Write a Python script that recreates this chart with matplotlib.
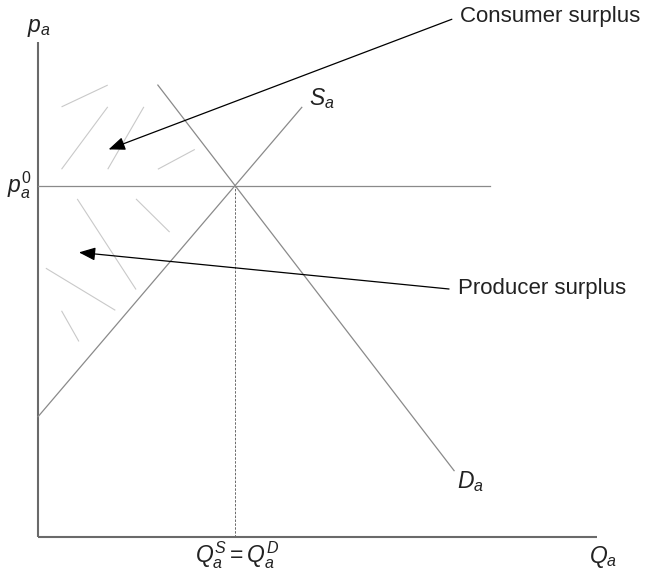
import matplotlib
matplotlib.use('Agg')
import matplotlib.pyplot as plt

plt.rcParams['font.family'] = ['Liberation Sans', 'DejaVu Sans']
plt.rcParams['mathtext.fontset'] = 'custom'
plt.rcParams['mathtext.rm'] = 'Liberation Sans'
plt.rcParams['mathtext.it'] = 'Liberation Sans:italic'

# supply and demand curves (quantity, price)
supply_q = [0.0, 47.1]
supply_p = [24.3, 86.8]
demand_q = [21.4, 74.3]
demand_p = [91.3, 13.4]

# market equilibrium
eq_q = 35.2
eq_p = 71.0

# axis extents
q_max = 99.8
p_max = 100.0
price_line_end = 80.7

# light strokes shading the surplus areas: (q0, q1, p0, p1)
consumer_strokes = [
    (4.2, 12.45, 86.9, 91.3),
    (4.2, 12.45, 74.3, 86.9),
    (12.45, 18.9, 74.3, 86.9),
    (21.4, 28.0, 74.3, 78.3),
]
producer_strokes = [
    (7.0, 17.5, 68.3, 50.0),
    (17.5, 23.5, 68.3, 61.6),
    (1.4, 13.8, 54.3, 45.8),
    (4.2, 7.3, 45.7, 39.5),
]

# annotation arrows: text anchor and arrow tip
consumer_text = (75.4, 105.1)
consumer_tail = (73.9, 104.6)
consumer_tip = (12.6, 78.3)
producer_text = (75.0, 50.3)
producer_tail = (73.4, 50.1)
producer_tip = (7.3, 57.5)

fig = plt.figure(figsize=(6.45, 5.79), dpi=100)
ax = fig.add_axes([0, 0, 1, 1])
ax.set_xlim(-6.79, 108.39)
ax.set_ylim(-8.49, 108.49)
ax.axis('off')

for q0, q1, p0, p1 in consumer_strokes + producer_strokes:
    ax.plot([q0, q1], [p0, p1], color='#c9c9c9', lw=0.8, solid_capstyle='butt')

ax.plot([0, 0], [0, p_max], color='#6a6a6a', lw=1.5, solid_capstyle='butt')
ax.plot([0, q_max], [0, 0], color='#6a6a6a', lw=1.5, solid_capstyle='butt')

ax.plot([0, price_line_end], [eq_p, eq_p], color='#8a8a8a', lw=0.9)
ax.plot([eq_q, eq_q], [0, eq_p], color='#6a6a6a', lw=0.7, linestyle=(0, (2.5, 1.5)))

ax.plot(supply_q, supply_p, color='#8a8a8a', lw=0.9)
ax.plot(demand_q, demand_p, color='#8a8a8a', lw=0.9)

arrow = dict(arrowstyle='-|>,head_length=1.0,head_width=0.4', color='black',
             lw=0.9, mutation_scale=10, shrinkA=0, shrinkB=0)
ax.annotate('', xy=consumer_tip, xytext=consumer_tail, arrowprops=arrow)
ax.annotate('', xy=producer_tip, xytext=producer_tail, arrowprops=arrow)

ax.text(*consumer_text, 'Consumer surplus', fontsize=16, ha='left', va='center', color='#222222')
ax.text(*producer_text, 'Producer surplus', fontsize=16, ha='left', va='center', color='#222222')

lab = dict(fontsize=16.5, color='#222222')
ax.text(0.2, 103.0, '$p_a$', ha='center', va='center', **lab)
ax.text(-1.2, 71.0, '$p_a^0$', ha='right', va='center', **lab)
ax.text(48.4, 88.6, '$S_a$', ha='left', va='center', **lab)
ax.text(74.8, 11.1, '$D_a$', ha='left', va='center', **lab)
ax.text(100.9, -4.0, '$Q_a$', ha='center', va='center', **lab)
ax.text(eq_q + 0.3, -3.6, '$Q_a^S = Q_a^D$', ha='center', va='center', **lab)

fig.savefig('out.png', dpi=100)
